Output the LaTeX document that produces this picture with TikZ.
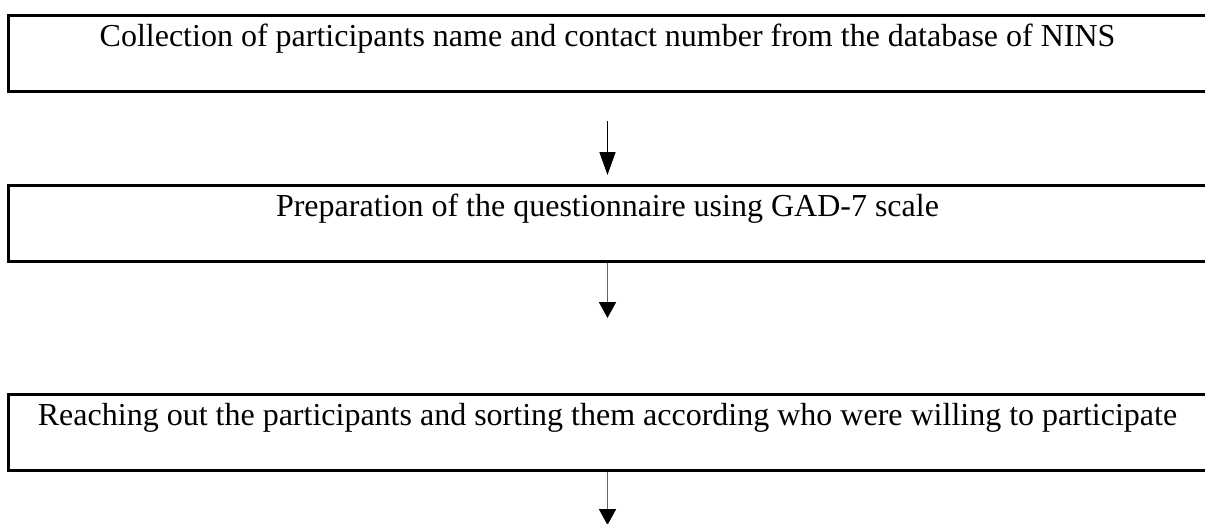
\documentclass[tikz,border=0pt]{standalone}
\usepackage{fontspec}
\setmainfont{Liberation Serif}
\usepackage{tikz}
\usetikzlibrary{arrows.meta,positioning}
\definecolor{stem}{RGB}{100,100,100}
\tikzset{
  stage/.style={
    rectangle, draw, line width=3pt, inner xsep=0pt, inner ysep=0pt,
    minimum width=1199pt, text height=31pt, text depth=45pt,
    font=\fontsize{32}{38}\selectfont
  },
  flow/.style={-{Triangle[length=23pt,width=16pt]}, line width=1.5pt},
  flowgray/.style={-{Triangle[length=16pt,width=17pt,color=black]}, line width=1.8pt, draw=stem}
}

\begin{document}
\begin{tikzpicture}[x=1pt, y=-1pt]
\useasboundingbox[fill=white] (0,0) rectangle (1205,523);
\node[stage, anchor=north] (collect) at (607.5,14) {Collection of participants name and contact number from the database of NINS};
\node[stage, below=91pt of collect] (prep) {Preparation of the questionnaire using GAD-7 scale};
\node[stage, below=130pt of prep] (reach) {Reaching out the participants and sorting them according who were willing to participate};
\coordinate[below=28pt of collect] (start1);
\coordinate[below=55pt of prep] (end2);
\coordinate[below=53pt of reach] (end3);
\draw[flow, shorten >=9pt] (start1) -- (prep);
\draw[flowgray] (prep) -- (end2);
\draw[flowgray] (reach) -- (end3);
\end{tikzpicture}
\end{document}
